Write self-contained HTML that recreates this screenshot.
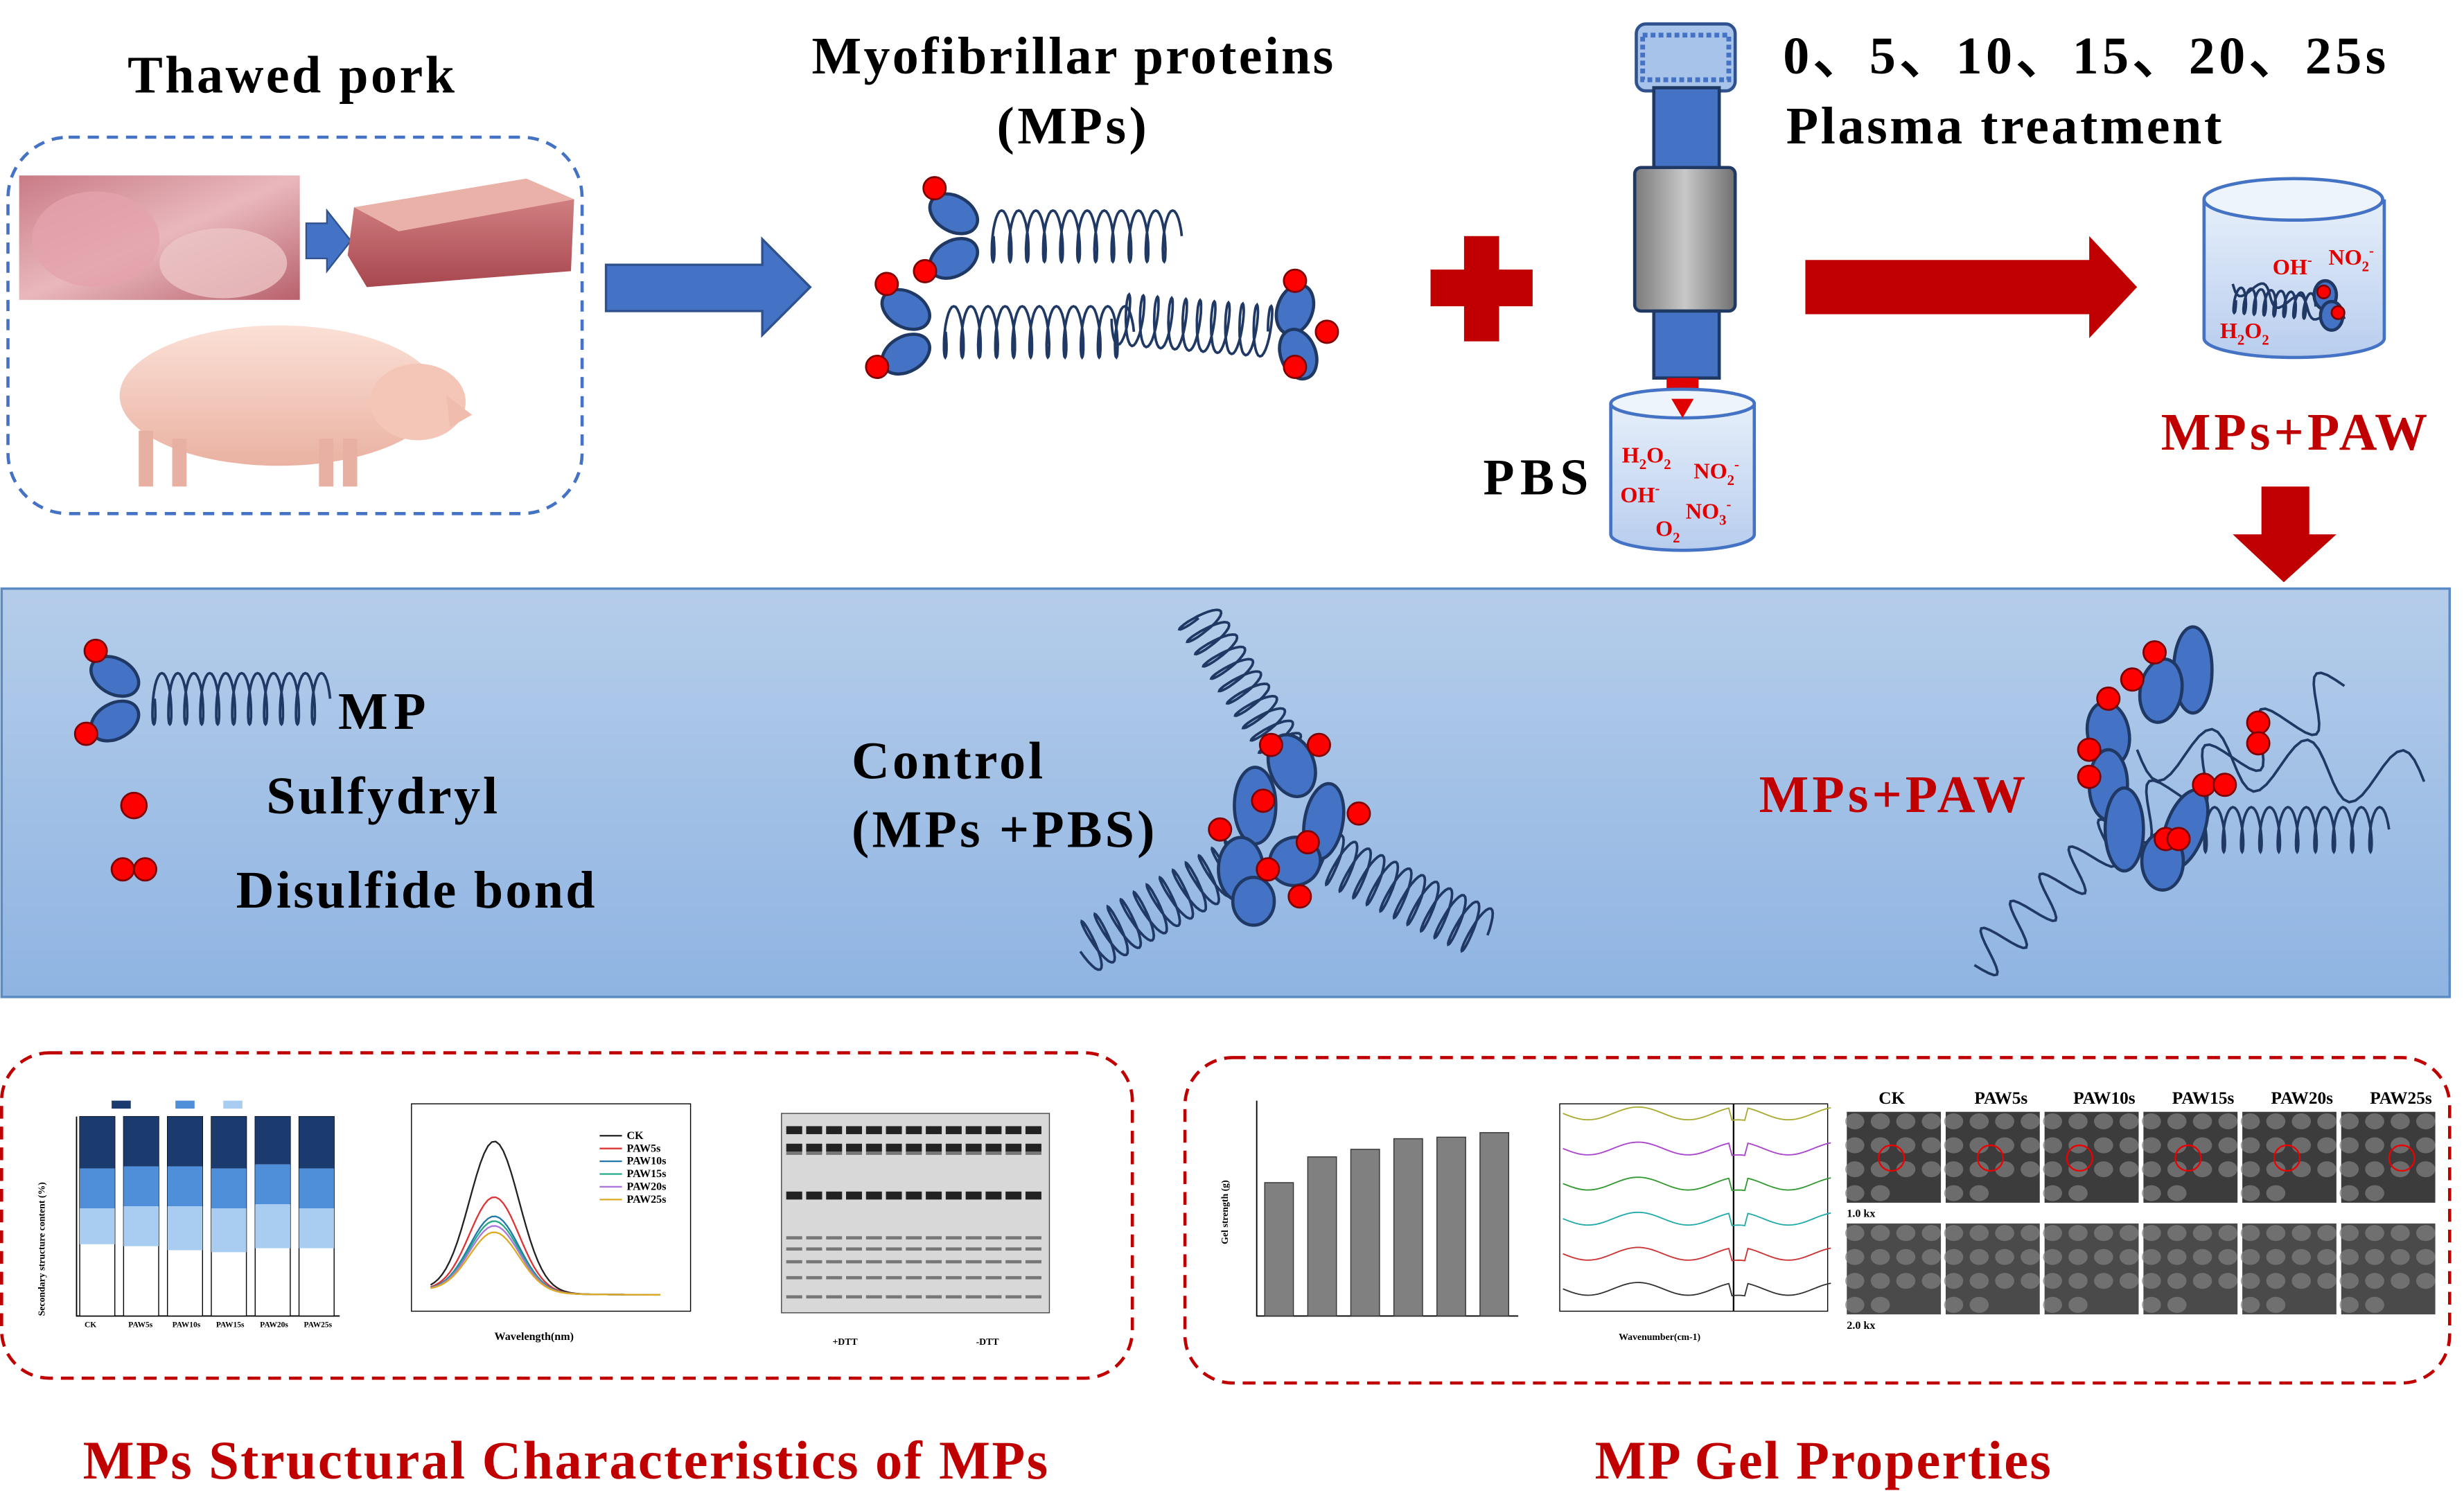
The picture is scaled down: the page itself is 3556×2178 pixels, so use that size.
<!DOCTYPE html>
<html><head><meta charset="utf-8"><style>
html,body{margin:0;padding:0;background:#fff;}
svg{display:block;}
text{font-family:"Liberation Serif",serif;font-weight:bold;}
</style></head><body>
<svg id="s" width="3556" height="2178" viewBox="0 0 1545 946" preserveAspectRatio="none" xmlns="http://www.w3.org/2000/svg">
<defs>
<linearGradient id="band" x1="0" y1="0" x2="0" y2="1"><stop offset="0" stop-color="#b5cdea"/><stop offset="1" stop-color="#8fb4e2"/></linearGradient>
<linearGradient id="meat" x1="0" y1="0" x2="1" y2="1"><stop offset="0" stop-color="#c97b86"/><stop offset="0.5" stop-color="#e9b8bd"/><stop offset="1" stop-color="#b8616c"/></linearGradient>
<linearGradient id="loin" x1="0" y1="0" x2="0" y2="1"><stop offset="0" stop-color="#d98c8c"/><stop offset="1" stop-color="#a8474f"/></linearGradient>
<linearGradient id="pig" x1="0" y1="0" x2="0" y2="1"><stop offset="0" stop-color="#fbe0d6"/><stop offset="1" stop-color="#eab2a2"/></linearGradient>
<linearGradient id="gray" x1="0" y1="0" x2="1" y2="0"><stop offset="0" stop-color="#7a7a7a"/><stop offset="0.5" stop-color="#c8c8c8"/><stop offset="1" stop-color="#707070"/></linearGradient>
<linearGradient id="beak" x1="0" y1="0" x2="0" y2="1"><stop offset="0" stop-color="#e6effa"/><stop offset="1" stop-color="#b8cdee"/></linearGradient>
</defs>

<!-- band -->
<rect x="1" y="369" width="1535" height="256" fill="url(#band)" stroke="#5b8bc5" stroke-width="1.5"/>
<g id="g"></g>

<!-- Top texts -->
<text x="80" y="58" font-size="33" textLength="205">Thawed pork</text>
<text x="509" y="46" font-size="33" textLength="327">Myofibrillar proteins</text>
<text x="625" y="90" font-size="33" textLength="94">(MPs)</text>
<text x="1118" y="46" font-size="33" textLength="378">0、5、10、15、20、25s</text>
<text x="1120" y="90" font-size="33" textLength="273">Plasma treatment</text>
<text x="930" y="310" font-size="32" textLength="66">PBS</text>
<text x="1355" y="282" font-size="33" fill="#c00000" textLength="167">MPs+PAW</text>

<!-- pork box -->
<rect x="5" y="86" width="360" height="236" rx="38" fill="none" stroke="#4472c4" stroke-width="2" stroke-dasharray="7,5"/>
<rect x="12" y="110" width="176" height="78" fill="url(#meat)"/>
<ellipse cx="60" cy="150" rx="40" ry="30" fill="#e3a3ad" opacity="0.8"/>
<ellipse cx="140" cy="165" rx="40" ry="22" fill="#ecc4c6" opacity="0.8"/>
<polygon points="192,140 205,140 205,132 220,151 205,170 205,162 192,162" fill="#4472c4" stroke="#2f528f"/>
<polygon points="222,130 330,112 360,125 358,170 230,180 218,160" fill="url(#loin)"/>
<polygon points="222,130 330,112 360,125 250,145" fill="#eab1a8"/>
<ellipse cx="175" cy="248" rx="100" ry="44" fill="url(#pig)"/>
<ellipse cx="262" cy="252" rx="30" ry="24" fill="#f3c6b8"/>
<rect x="87" y="270" width="9" height="35" fill="#e8b0a2"/><rect x="108" y="275" width="9" height="30" fill="#e8b0a2"/>
<rect x="200" y="275" width="9" height="30" fill="#e8b0a2"/><rect x="215" y="275" width="9" height="30" fill="#e8b0a2"/>
<polygon points="280,248 296,260 282,268" fill="#f0bcae"/>

<polygon points="380,166 478,166 478,150 508,180 478,210 478,195 380,195" fill="#4472c4" stroke="#2f528f" stroke-width="1.5"/>
<rect x="918" y="148" width="22" height="66" fill="#c00000"/>
<rect x="897" y="169" width="64" height="23" fill="#c00000"/>
<polygon points="1132,163 1310,163 1310,148 1340,180 1310,212 1310,197 1132,197" fill="#c00000"/>
<polygon points="1418,305 1448,305 1448,335 1465,335 1432,365 1400,335 1418,335" fill="#c00000"/>

<rect x="1026" y="15" width="62" height="42" rx="6" fill="#a7c3ea" stroke="#2f528f" stroke-width="2"/>
<rect x="1030" y="22" width="54" height="28" fill="none" stroke="#4472c4" stroke-dasharray="3,2" stroke-width="3"/>
<rect x="1037" y="55" width="41" height="52" fill="#4472c4" stroke="#1f3864" stroke-width="2"/>
<rect x="1025" y="105" width="63" height="90" rx="4" fill="url(#gray)" stroke="#1f3864" stroke-width="2"/>
<rect x="1037" y="195" width="41" height="42" fill="#4472c4" stroke="#1f3864" stroke-width="2"/>
<polygon points="1045,237 1065,237 1065,255 1055,265 1045,255" fill="#e00000"/>
<path d="M1010,253 L1010,335 A45,10 0 0 0 1100,335 L1100,253" fill="url(#beak)" stroke="#4472c4" stroke-width="2"/>
<ellipse cx="1055" cy="253" rx="45" ry="9" fill="#eef4fc" stroke="#4472c4" stroke-width="2"/>
<polygon points="1048,250 1062,250 1055,262" fill="#e00000"/>
<g fill="#e00000" font-size="14">
<text x="1017" y="290">H<tspan font-size="9" dy="4">2</tspan><tspan dy="-4">O</tspan><tspan font-size="9" dy="4">2</tspan></text>
<text x="1062" y="300">NO<tspan font-size="9" dy="4">2</tspan><tspan font-size="9" dy="-10">-</tspan></text>
<text x="1016" y="315">OH<tspan font-size="9" dy="-6">-</tspan></text>
<text x="1057" y="325">NO<tspan font-size="9" dy="4">3</tspan><tspan font-size="9" dy="-10">-</tspan></text>
<text x="1038" y="336">O<tspan font-size="9" dy="4">2</tspan></text>
</g>
<path d="M1382,125 L1382,212 A56,12 0 0 0 1495,212 L1495,125" fill="url(#beak)" stroke="#4472c4" stroke-width="2"/>
<ellipse cx="1438" cy="125" rx="56" ry="13" fill="#eef4fc" stroke="#4472c4" stroke-width="2"/>
<g id="g2"></g>
<g fill="#e00000" font-size="14">
<text x="1425" y="172">OH<tspan font-size="9" dy="-6">-</tspan></text>
<text x="1460" y="166">NO<tspan font-size="9" dy="4">2</tspan><tspan font-size="9" dy="-10">-</tspan></text>
<text x="1392" y="212">H<tspan font-size="9" dy="4">2</tspan><tspan dy="-4">O</tspan><tspan font-size="9" dy="4">2</tspan></text>
</g>

<text x="212" y="457" font-size="33" textLength="55">MP</text>
<text x="167" y="510" font-size="33" textLength="145">Sulfydryl</text>
<text x="148" y="569" font-size="33" textLength="225">Disulfide bond</text>
<text x="534" y="488" font-size="33" textLength="120">Control</text>
<text x="534" y="531" font-size="33" textLength="190">(MPs +PBS)</text>
<text x="1103" y="509" font-size="33" fill="#c00000" textLength="167">MPs+PAW</text>

<rect x="1" y="660" width="709" height="204" rx="30" fill="none" stroke="#c00000" stroke-width="2" stroke-dasharray="8,5"/>
<rect x="743" y="663" width="793" height="204" rx="30" fill="none" stroke="#c00000" stroke-width="2" stroke-dasharray="8,5"/>
<text x="52" y="927" font-size="34" fill="#c00000" textLength="605">MPs Structural Characteristics of MPs</text>
<text x="1000" y="927" font-size="34" fill="#c00000" textLength="286">MP Gel Properties</text>
<g id="charts"></g>
</svg>
<script>
var NS="http://www.w3.org/2000/svg",G=document.getElementById('g'),C=document.getElementById('charts');
function el(p,t,a){var e=document.createElementNS(NS,t);for(var k in a)e.setAttribute(k,a[k]);p.appendChild(e);return e;}
function coil(x1,y1,x2,y2,n,amp,r){var dx=x2-x1,dy=y2-y1,L=Math.hypot(dx,dy),ux=dx/L,uy=dy/L,px=-uy,py=ux,d='';
 for(var i=0;i<=n*24;i++){var t=i/(n*24),a=2*Math.PI*n*t;var s=t*L+r*Math.cos(a);var q=amp*Math.sin(a);
 var x=x1+ux*s+px*q,y=y1+uy*s+py*q;d+=(i?'L':'M')+x.toFixed(1)+','+y.toFixed(1);}
 el(G,'path',{d:d,fill:'none',stroke:'#1f3864','stroke-width':1.6});}
function wave(x1,y1,x2,y2,n,amp){var dx=x2-x1,dy=y2-y1,L=Math.hypot(dx,dy),ux=dx/L,uy=dy/L,px=-uy,py=ux,d='';
 for(var i=0;i<=n*16;i++){var t=i/(n*16),q=amp*Math.sin(2*Math.PI*n*t);d+=(i?'L':'M')+(x1+dx*t+px*q).toFixed(1)+','+(y1+dy*t+py*q).toFixed(1);}
 el(G,'path',{d:d,fill:'none',stroke:'#1f3864','stroke-width':1.6});}
function ell(cx,cy,rx,ry,rot){el(G,'ellipse',{cx:cx,cy:cy,rx:rx,ry:ry,fill:'#4472c4',stroke:'#1f3864','stroke-width':2,transform:'rotate('+(rot||0)+' '+cx+' '+cy+')'});}
function dot(cx,cy,r){el(G,'circle',{cx:cx,cy:cy,r:r||7,fill:'#f00',stroke:'#7f0000','stroke-width':1.2});}
function mol(x,y,flip,len){var s=flip?-1:1;coil(x+s*22,y,x+s*(22+len),y,11,16,3);
 ell(x,y-14,16,11,s*30);ell(x,y+14,16,11,-s*30);dot(x-s*12,y-30);dot(x-s*18,y+22);}
mol(598,148,false,118); mol(568,208,false,118);
coil(798,208,700,200,11,16,3); ell(812,194,11,16,20);ell(814,222,11,16,-20);dot(812,176);dot(832,208);dot(812,230);
mol(72,438,false,110);
dot(84,505,8); dot(77,545,7); dot(91,545,7);
coil(750,385,805,470,11,14,3);
coil(778,540,680,595,12,16,3);
coil(828,535,930,585,12,16,3);
ell(810,480,14,20,-20);ell(787,505,13,24,0);ell(830,515,12,24,10);ell(778,545,14,20,0);ell(812,540,16,15,-20);ell(786,565,13,15,0);
dot(797,467);dot(827,467);dot(792,502);dot(852,510);dot(765,520);dot(820,528);dot(795,545);dot(815,562);
wave(1238,605,1330,520,5,14);wave(1330,520,1470,430,4,16);wave(1340,470,1520,490,3,18);
coil(1380,520,1495,520,10,14,3);
ell(1375,420,12,27,0);ell(1355,433,13,20,10);ell(1322,460,13,20,-10);ell(1322,492,12,22,0);ell(1332,520,12,26,0);ell(1370,520,12,26,20);ell(1356,540,13,18,0);
dot(1351,409);dot(1337,426);dot(1322,438);dot(1310,470);dot(1310,487);dot(1416,453);dot(1416,466);dot(1382,492);dot(1395,492);dot(1358,526);dot(1366,526);
// small molecule in right beaker
G=document.getElementById('g2');
coil(1400,188,1450,192,8,8,2);wave(1400,178,1470,200,3,6);
ell(1458,185,7,9,0);ell(1462,198,7,9,0);dot(1457,183,4);dot(1466,196,4);
// charts
function R(x,y,w,h,f,st){return el(C,'rect',{x:x,y:y,width:w,height:h,fill:f,stroke:st||'none','stroke-width':0.6});}
function T(x,y,s,t,sz,col){var e=el(C,'text',{x:x,y:y,'font-size':sz||6,fill:col||'#000','font-weight':'normal'});e.textContent=t;return e;}
el(C,'path',{d:'M48,700 V825 H213',fill:'none',stroke:'#000','stroke-width':0.8});
var nv=[0.26,0.25,0.25,0.26,0.24,0.26],mb=[0.2,0.2,0.2,0.2,0.2,0.2],lb=[0.18,0.2,0.22,0.22,0.22,0.2];
for(var i=0;i<6;i++){var x=50+i*27.5,h=125;R(x,700,22,125,'#ffffff','#000');
 R(x,700,22,h*nv[i],'#1b3b6f');R(x,700+h*nv[i],22,h*mb[i],'#4f8fda');R(x,700+h*(nv[i]+mb[i]),22,h*lb[i],'#a9cdf1');}
R(70,690,12,5,'#1b3b6f');R(110,690,12,5,'#4f8fda');R(140,690,12,5,'#a9cdf1');
['CK','PAW5s','PAW10s','PAW15s','PAW20s','PAW25s'].forEach(function(s,i){T(53+i*27.5,832,0,s,5);});
var tx=T(0,0,0,'Secondary structure content (%)',6);tx.setAttribute('transform','translate(28,825) rotate(-90)');
R(258,692,175,130,'#fff','#000');
var cols=['#222','#d33','#27a','#2a8','#a7d','#da2'],pk=[95,60,48,45,42,38];
for(var k=0;k<6;k++){var d='';for(var j=0;j<=60;j++){var xx=270+j*2.4,w=Math.exp(-Math.pow((xx-310)/22,2));var yy=812-pk[k]*w-3*Math.exp(-(xx-270)/60);d+=(j?'L':'M')+xx+','+yy;}
 el(C,'path',{d:d,fill:'none',stroke:cols[k],'stroke-width':1});el(C,'line',{x1:376,y1:712+k*8,x2:390,y2:712+k*8,stroke:cols[k]});}
['CK','PAW5s','PAW10s','PAW15s','PAW20s','PAW25s'].forEach(function(s,i){T(393,714+i*8,0,s,7);});
T(310,840,0,'Wavelength(nm)',7);
R(490,698,168,125,'#d8d8d8','#444');
for(var i=0;i<13;i++){var x=493+i*12.5;[706,717,722,747,775,782,790,800,812].forEach(function(y,j){R(x,y,10,j<2||j==3?5:2,j<2||j==3?'#222':'#777');});}
T(522,843,0,'+DTT',6);T(612,843,0,'-DTT',6);
el(C,'path',{d:'M788,690 V825 H952',fill:'none',stroke:'#000','stroke-width':0.8});
[88,105,110,117,118,121].forEach(function(v,i){var h=v*0.95;R(793+i*27,825-h,18,h,'#808080','#333');});
var ty=T(0,0,0,'Gel strength (g)',6);ty.setAttribute('transform','translate(770,780) rotate(-90)');
R(978,692,168,130,'#fff','#000');el(C,'line',{x1:1087,y1:692,x2:1087,y2:822,stroke:'#000'});
var fc=['#333','#c33','#2aa','#393','#a4c','#aa3'];
for(var k=0;k<6;k++){var d='',by=808-k*22;for(var j=0;j<=84;j++){var xx=980+j*2,yy=by+4*Math.sin(j/5)+(j>52&&j<58?8:0);d+=(j?'L':'M')+xx+','+yy;}el(C,'path',{d:d,fill:'none',stroke:fc[k],'stroke-width':0.8});}
T(1015,840,0,'Wavenumber(cm-1)',6);
var labs=['CK','PAW5s','PAW10s','PAW15s','PAW20s','PAW25s'];
for(var i=0;i<6;i++){var x=1158+i*62;T(x+(i?18:20),692,0,labs[i],11).setAttribute('font-weight','bold');
 [697,767].forEach(function(y,r){R(x,y,59,57,r?'#4a4a4a':'#3c3c3c');
 for(var m=0;m<14;m++)el(C,'ellipse',{cx:x+5+(m%4)*16,cy:y+6+Math.floor(m/4)*15,rx:6,ry:5,fill:'#808080',opacity:0.7});});
 el(C,'circle',{cx:x+(i==1?28:i==2?22:i==5?38:28),cy:726,r:8,fill:'none',stroke:'#e00','stroke-width':1});}
T(1158,763,0,'1.0 kx',7);T(1158,833,0,'2.0 kx',7);
</script>
</body></html>
